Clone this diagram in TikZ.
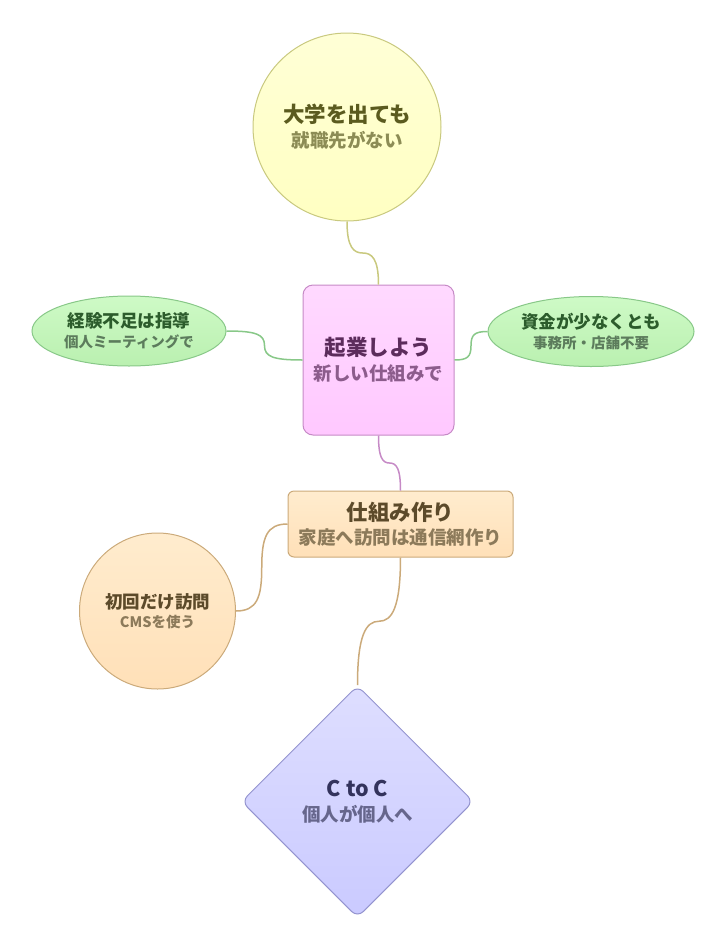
\documentclass[tikz,border=0pt]{standalone}
\usepackage{fontspec}
\usepackage{xcolor}
\usepackage{tikz}
\usetikzlibrary{shapes.geometric, calc}
\setmainfont{Noto Sans CJK JP}

\definecolor{dreamtop}{RGB}{255,255,214}
\definecolor{dreambot}{RGB}{255,255,194}
\definecolor{dreamline}{RGB}{201,201,127}
\definecolor{dreamhead}{RGB}{91,91,31}
\definecolor{dreamsub}{RGB}{140,140,85}
\definecolor{starttop}{RGB}{255,217,255}
\definecolor{startbot}{RGB}{255,200,255}
\definecolor{startline}{RGB}{198,138,198}
\definecolor{starthead}{RGB}{92,44,92}
\definecolor{startsub}{RGB}{140,92,140}
\definecolor{leaftop}{RGB}{206,250,198}
\definecolor{leafbot}{RGB}{186,240,176}
\definecolor{leafline}{RGB}{136,200,136}
\definecolor{leafhead}{RGB}{44,92,44}
\definecolor{leafsub}{RGB}{92,124,92}
\definecolor{tantop}{RGB}{255,236,206}
\definecolor{tanbot}{RGB}{255,224,184}
\definecolor{tanline}{RGB}{203,170,122}
\definecolor{tanhead}{RGB}{92,74,42}
\definecolor{tansub}{RGB}{140,122,90}
\definecolor{lavtop}{RGB}{222,222,255}
\definecolor{lavbot}{RGB}{202,202,255}
\definecolor{lavline}{RGB}{148,148,207}
\definecolor{lavhead}{RGB}{51,51,92}
\definecolor{lavsub}{RGB}{102,102,140}

% two-line labels: title, then subtitle
\newcommand{\bigtwo}[4]{\textcolor{#1}{\fontsize{21.5}{25}\selectfont\bfseries #3}\\\textcolor{#2}{\fontsize{18.5}{25}\selectfont\bfseries #4}}
\newcommand{\smalltwo}[4]{\textcolor{#1}{\fontsize{17.5}{20}\selectfont\bfseries #3}\\\textcolor{#2}{\fontsize{14.5}{20}\selectfont\bfseries #4}}

\tikzset{
  bubble/.style={draw, line width=1pt, inner sep=0pt, align=center},
  dreamnode/.style={bubble, circle, minimum size=188pt, draw=dreamline, top color=dreamtop, bottom color=dreambot, font=\fontsize{18}{25}\selectfont},
  startnode/.style={bubble, rectangle, rounded corners=10pt, minimum width=151pt, minimum height=150pt, draw=startline, top color=starttop, bottom color=startbot, font=\fontsize{18}{25}\selectfont},
  leafnode/.style={bubble, ellipse, minimum height=70pt, draw=leafline, top color=leaftop, bottom color=leafbot, font=\fontsize{14.5}{20}\selectfont},
  tannode/.style={bubble, draw=tanline, top color=tantop, bottom color=tanbot},
  lavnode/.style={bubble, diamond, aspect=1, rounded corners=8pt, minimum width=232pt, minimum height=232pt, draw=lavline, top color=lavtop, bottom color=lavbot, font=\fontsize{18}{25}\selectfont},
  link/.style={line width=1.5pt},
}

\begin{document}
\begin{tikzpicture}[x=1pt, y=-1pt]
  \useasboundingbox (0,0) rectangle (723,943);

  \node[dreamnode] (dream) at (347,127) {\bigtwo{dreamhead}{dreamsub}{大学を出ても}{就職先がない}};
  \node[startnode] (start) at (378.5,360) {\bigtwo{starthead}{startsub}{起業しよう}{新しい仕組みで}};
  \node[leafnode, minimum width=194pt] (skill) at (129,331) {\smalltwo{leafhead}{leafsub}{経験不足は指導}{個人ミーティングで}};
  \node[leafnode, minimum width=206pt] (fund) at (591,331.5) {\smalltwo{leafhead}{leafsub}{資金が少なくとも}{事務所・店舗不要}};
  \node[tannode, rectangle, rounded corners=6pt, minimum width=225pt, minimum height=66pt, font=\fontsize{18}{24}\selectfont] (system) at (400.5,524) {\bigtwo{tanhead}{tansub}{仕組み作り}{家庭へ訪問は通信網作り}};
  \node[tannode, circle, minimum size=156pt, font=\fontsize{14.5}{19}\selectfont] (visit) at (157.5,611) {\smalltwo{tanhead}{tansub}{初回だけ訪問}{CMSを使う}};
  \node[lavnode] (ctoc) at (357.5,801.5) {\bigtwo{lavhead}{lavsub}{C to C}{個人が個人へ}};

  % s-shaped links through the midpoint
  \draw[link, draw=dreamline] (dream.south) .. controls +(0,26) and +(-9,0) .. ($(dream.south)!0.5!(start.north)$) .. controls +(9,0) and +(0,-26) .. (start.north);
  \draw[link, draw=leafline] (skill.east) .. controls +(30,0) and +(0,-11) .. ($(skill.east)!0.5!(start.west)$) .. controls +(0,11) and +(-30,0) .. (start.west);
  \draw[link, draw=leafline] (start.east) .. controls +(13,0) and +(0,11) .. ($(start.east)!0.5!(fund.west)$) .. controls +(0,-11) and +(-13,0) .. (fund.west);
  \draw[link, draw=startline] (start.south) .. controls +(0,22) and +(-7,0) .. ($(start.south)!0.5!(system.north)$) .. controls +(7,0) and +(0,-22) .. (system.north);
  \draw[link, draw=tanline] (system.west) .. controls +(-21,0) and +(0,-30) .. ($(system.west)!0.5!(visit.east)$) .. controls +(0,30) and +(21,0) .. (visit.east);
  \draw[link, draw=tanline] (system.south) .. controls +(0,50) and +(13,0) .. ($(system.south)!0.5!(ctoc.north)$) .. controls +(-13,0) and +(0,-50) .. (ctoc.north);
\end{tikzpicture}
\end{document}
